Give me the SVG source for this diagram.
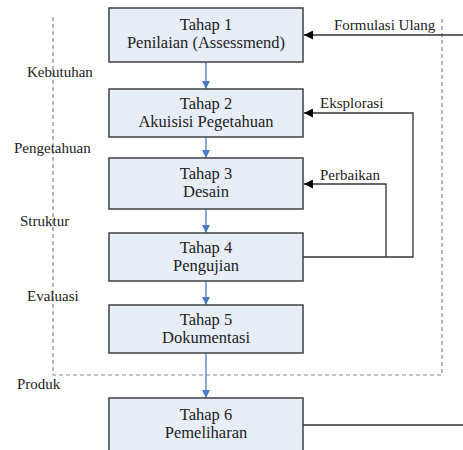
<svg xmlns="http://www.w3.org/2000/svg" width="463" height="450" viewBox="0 0 463 450">
<style>
.box{fill:#E8EEF8;stroke:#404040;stroke-width:1.5}
.t{font-family:"Liberation Serif","Times New Roman",serif;font-size:16.5px;fill:#222;text-anchor:middle}
.l{font-family:"Liberation Serif","Times New Roman",serif;font-size:15px;fill:#222}
.c{fill:none;stroke:#333;stroke-width:1.3}
.b{fill:none;stroke:#4A7CC6;stroke-width:1.3}
.d{fill:none;stroke:#888;stroke-width:1.2;stroke-dasharray:4,3}
</style>
<defs>
<marker id="ab" viewBox="0 0 10 10" refX="10" refY="5" markerWidth="10" markerHeight="8" markerUnits="userSpaceOnUse" orient="auto"><path d="M0,0L10,5L0,10z" fill="#4A7CC6"/></marker>
<marker id="ak" viewBox="0 0 10 10" refX="10" refY="5" markerWidth="12" markerHeight="9" markerUnits="userSpaceOnUse" orient="auto"><path d="M0,0L10,5L0,10z" fill="#000"/></marker>
</defs>
<g id="boundary"><path class="d" d="M53,17V375H442V17"/></g>
<g id="labels">
<text class="l" x="27" y="77">Kebutuhan</text>
<text class="l" x="14" y="153">Pengetahuan</text>
<text class="l" x="20" y="226">Struktur</text>
<text class="l" x="27" y="301">Evaluasi</text>
<text class="l" x="17" y="389">Produk</text>
</g>
<g id="connectors">
<path class="b" d="M206,62V89" marker-end="url(#ab)"/>
<path class="b" d="M206,137V158" marker-end="url(#ab)"/>
<path class="b" d="M206,209V233" marker-end="url(#ab)"/>
<path class="b" d="M206,281V305" marker-end="url(#ab)"/>
<path class="b" d="M206,353V398" marker-end="url(#ab)"/>
<path class="c" d="M463,35H304" marker-end="url(#ak)"/>
<path class="c" d="M303,257H413V113H304" marker-end="url(#ak)"/>
<path class="c" d="M386,257V184H304" marker-end="url(#ak)"/>
<path class="c" d="M303,425H463"/>
<text class="l" x="334" y="30">Formulasi Ulang</text>
<text class="l" x="320" y="108">Eksplorasi</text>
<text class="l" x="320" y="180">Perbaikan</text>
</g>
<g id="tahap1"><rect class="box" x="109" y="8" width="194" height="54"/><text class="t" x="206" y="30">Tahap 1</text><text class="t" x="206" y="48">Penilaian (Assessmend)</text></g>
<g id="tahap2"><rect class="box" x="109" y="89" width="194" height="48"/><text class="t" x="206" y="109">Tahap 2</text><text class="t" x="206" y="127">Akuisisi Pegetahuan</text></g>
<g id="tahap3"><rect class="box" x="109" y="158" width="194" height="51"/><text class="t" x="206" y="179">Tahap 3</text><text class="t" x="206" y="197">Desain</text></g>
<g id="tahap4"><rect class="box" x="109" y="233" width="194" height="48"/><text class="t" x="206" y="253">Tahap 4</text><text class="t" x="206" y="271">Pengujian</text></g>
<g id="tahap5"><rect class="box" x="109" y="305" width="194" height="48"/><text class="t" x="206" y="325">Tahap 5</text><text class="t" x="206" y="343">Dokumentasi</text></g>
<g id="tahap6"><rect class="box" x="109" y="398" width="194" height="60"/><text class="t" x="206" y="420">Tahap 6</text><text class="t" x="206" y="438">Pemeliharan</text></g>
</svg>
